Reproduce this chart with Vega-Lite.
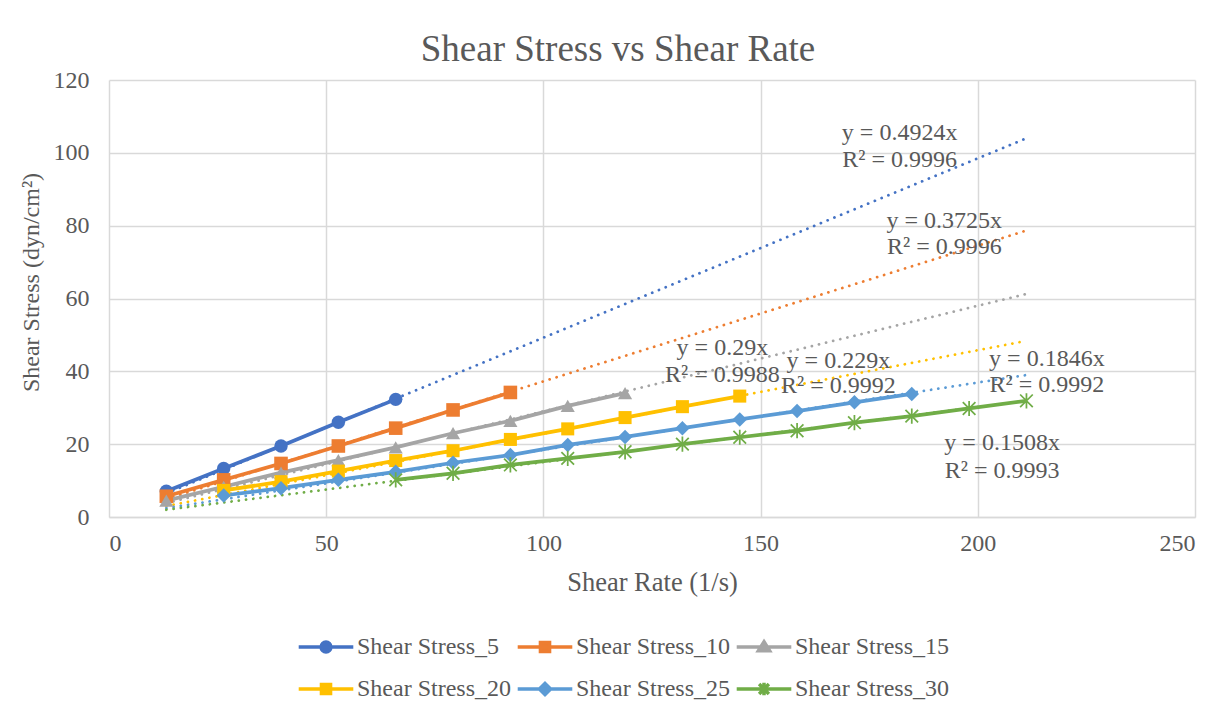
{
  "$schema": "https://vega.github.io/schema/vega-lite/v6.json",
  "width": 1086,
  "height": 437,
  "autosize": {"type": "none"},
  "padding": {"left": 109, "top": 80, "right": 30, "bottom": 204},
  "background": "white",
  "title": {"text": "Shear Stress vs Shear Rate", "font": "Liberation Serif", "fontSize": 37, "fontWeight": "normal", "color": "#595959", "anchor": "middle", "dx": -34, "dy": 11, "offset": 10},
  "datasets": {
    "pts": [
      {"series": "Shear Stress_5", "x": 13.2, "y": 7.1},
      {"series": "Shear Stress_5", "x": 26.4, "y": 13.3},
      {"series": "Shear Stress_5", "x": 39.6, "y": 19.5},
      {"series": "Shear Stress_5", "x": 52.8, "y": 26.0},
      {"series": "Shear Stress_5", "x": 66, "y": 32.3},
      {"series": "Shear Stress_10", "x": 13.2, "y": 5.7},
      {"series": "Shear Stress_10", "x": 26.4, "y": 10.2},
      {"series": "Shear Stress_10", "x": 39.6, "y": 14.7},
      {"series": "Shear Stress_10", "x": 52.8, "y": 19.5},
      {"series": "Shear Stress_10", "x": 66, "y": 24.4},
      {"series": "Shear Stress_10", "x": 79.2, "y": 29.4},
      {"series": "Shear Stress_10", "x": 92.4, "y": 34.2},
      {"series": "Shear Stress_15", "x": 13.2, "y": 4.5},
      {"series": "Shear Stress_15", "x": 26.4, "y": 8.3},
      {"series": "Shear Stress_15", "x": 39.6, "y": 12.2},
      {"series": "Shear Stress_15", "x": 52.8, "y": 15.6},
      {"series": "Shear Stress_15", "x": 66, "y": 19.1},
      {"series": "Shear Stress_15", "x": 79.2, "y": 23.0},
      {"series": "Shear Stress_15", "x": 92.4, "y": 26.4},
      {"series": "Shear Stress_15", "x": 105.6, "y": 30.5},
      {"series": "Shear Stress_15", "x": 118.8, "y": 34.0},
      {"series": "Shear Stress_20", "x": 26.4, "y": 7.3},
      {"series": "Shear Stress_20", "x": 39.6, "y": 9.7},
      {"series": "Shear Stress_20", "x": 52.8, "y": 12.6},
      {"series": "Shear Stress_20", "x": 66, "y": 15.5},
      {"series": "Shear Stress_20", "x": 79.2, "y": 18.2},
      {"series": "Shear Stress_20", "x": 92.4, "y": 21.3},
      {"series": "Shear Stress_20", "x": 105.6, "y": 24.2},
      {"series": "Shear Stress_20", "x": 118.8, "y": 27.3},
      {"series": "Shear Stress_20", "x": 132, "y": 30.3},
      {"series": "Shear Stress_20", "x": 145.2, "y": 33.2},
      {"series": "Shear Stress_25", "x": 26.4, "y": 5.9},
      {"series": "Shear Stress_25", "x": 39.6, "y": 7.9},
      {"series": "Shear Stress_25", "x": 52.8, "y": 10.2},
      {"series": "Shear Stress_25", "x": 66, "y": 12.4},
      {"series": "Shear Stress_25", "x": 79.2, "y": 14.9},
      {"series": "Shear Stress_25", "x": 92.4, "y": 17.0},
      {"series": "Shear Stress_25", "x": 105.6, "y": 19.8},
      {"series": "Shear Stress_25", "x": 118.8, "y": 22.0},
      {"series": "Shear Stress_25", "x": 132, "y": 24.4},
      {"series": "Shear Stress_25", "x": 145.2, "y": 26.8},
      {"series": "Shear Stress_25", "x": 158.4, "y": 29.1},
      {"series": "Shear Stress_25", "x": 171.6, "y": 31.5},
      {"series": "Shear Stress_25", "x": 184.8, "y": 33.8},
      {"series": "Shear Stress_30", "x": 66, "y": 10.2},
      {"series": "Shear Stress_30", "x": 79.2, "y": 12.0},
      {"series": "Shear Stress_30", "x": 92.4, "y": 14.3},
      {"series": "Shear Stress_30", "x": 105.6, "y": 16.1},
      {"series": "Shear Stress_30", "x": 118.8, "y": 17.9},
      {"series": "Shear Stress_30", "x": 132, "y": 20.0},
      {"series": "Shear Stress_30", "x": 145.2, "y": 21.9},
      {"series": "Shear Stress_30", "x": 158.4, "y": 23.7},
      {"series": "Shear Stress_30", "x": 171.6, "y": 25.9},
      {"series": "Shear Stress_30", "x": 184.8, "y": 27.7},
      {"series": "Shear Stress_30", "x": 198, "y": 29.8},
      {"series": "Shear Stress_30", "x": 211.2, "y": 31.9}
    ],
    "trend": [
      {"series": "Shear Stress_5", "x": 13.2, "y": 6.5},
      {"series": "Shear Stress_5", "x": 211.2, "y": 104.0},
      {"series": "Shear Stress_10", "x": 13.2, "y": 4.92},
      {"series": "Shear Stress_10", "x": 211.2, "y": 78.67},
      {"series": "Shear Stress_15", "x": 13.2, "y": 3.83},
      {"series": "Shear Stress_15", "x": 211.2, "y": 61.25},
      {"series": "Shear Stress_20", "x": 13.2, "y": 3.02},
      {"series": "Shear Stress_20", "x": 211.2, "y": 48.36},
      {"series": "Shear Stress_25", "x": 13.2, "y": 2.44},
      {"series": "Shear Stress_25", "x": 211.2, "y": 38.99},
      {"series": "Shear Stress_30", "x": 13.2, "y": 1.99},
      {"series": "Shear Stress_30", "x": 211.2, "y": 31.85}
    ],
    "notes": [
      {"label": "y = 0.4924x", "x": 182.0, "y": 103.5},
      {"label": "R² = 0.9996", "x": 182.0, "y": 96.1},
      {"label": "y = 0.3725x", "x": 192.3, "y": 79.3},
      {"label": "R² = 0.9996", "x": 192.3, "y": 72.2},
      {"label": "y = 0.29x", "x": 141.2, "y": 44.4},
      {"label": "R² = 0.9988", "x": 141.2, "y": 37.0},
      {"label": "y = 0.229x", "x": 167.9, "y": 40.8},
      {"label": "R² = 0.9992", "x": 167.9, "y": 33.95},
      {"label": "y = 0.1846x", "x": 215.9, "y": 41.6},
      {"label": "R² = 0.9992", "x": 215.9, "y": 34.2},
      {"label": "y = 0.1508x", "x": 205.6, "y": 18.3},
      {"label": "R² = 0.9993", "x": 205.6, "y": 10.6}
    ],
    "keys": [
      {"series": "Shear Stress_5"},
      {"series": "Shear Stress_10"},
      {"series": "Shear Stress_15"},
      {"series": "Shear Stress_20"},
      {"series": "Shear Stress_25"},
      {"series": "Shear Stress_30"}
    ]
  },
  "layer": [
    {
      "data": {"name": "trend"},
      "mark": {"type": "line", "strokeWidth": 2.75, "strokeDash": [0.1, 7.2], "strokeCap": "round"},
      "encoding": {
        "x": {
          "field": "x", "type": "quantitative",
          "scale": {"domain": [0, 250], "nice": false, "zero": false},
          "axis": {
            "values": [0, 50, 100, 150, 200, 250],
            "grid": true, "gridColor": "#d9d9d9", "gridWidth": 1.5,
            "domain": true, "domainColor": "#d9d9d9", "domainWidth": 1.5,
            "ticks": false, "tickSize": 0,
            "labelFont": "Liberation Serif", "labelFontSize": 24, "labelColor": "#595959", "labelPadding": 14,
            "title": "Shear Rate (1/s)", "titleFont": "Liberation Serif", "titleFontSize": 26.5, "titleFontWeight": "normal", "titleColor": "#595959", "titlePadding": 14
          }
        },
        "y": {
          "field": "y", "type": "quantitative",
          "scale": {"domain": [0, 120], "nice": false},
          "axis": {
            "values": [0, 20, 40, 60, 80, 100, 120],
            "grid": true, "gridColor": "#d9d9d9", "gridWidth": 1.5,
            "domain": false, "ticks": false, "tickSize": 0,
            "labelFont": "Liberation Serif", "labelFontSize": 24, "labelColor": "#595959", "labelPadding": 20,
            "title": "Shear Stress (dyn/cm²)", "titleFont": "Liberation Serif", "titleFontSize": 24, "titleFontWeight": "normal", "titleColor": "#595959", "titlePadding": 10, "titleY": 202
          }
        },
        "color": {"field": "series", "type": "nominal",
          "scale": {"domain": ["Shear Stress_5", "Shear Stress_10", "Shear Stress_15", "Shear Stress_20", "Shear Stress_25", "Shear Stress_30"],
                    "range": ["#4472C4", "#ED7D31", "#A5A5A5", "#FFC000", "#5B9BD5", "#70AD47"]},
          "legend": {
            "orient": "none", "legendX": 187, "legendY": 555,
            "direction": "horizontal", "columns": 3, "title": null,
            "symbolType": "M-3.9,0H3.9M0.7,0A0.7,0.7 0 1,1 -0.7,0A0.7,0.7 0 1,1 0.7,0Z",
            "symbolSize": 196, "symbolStrokeWidth": 3.5, "symbolOpacity": 1,
            "symbolOffset": 18, "labelOffset": 19,
            "labelFont": "Liberation Serif", "labelFontSize": 24, "labelColor": "#595959", "labelLimit": 400,
            "columnPadding": -1, "rowPadding": 16
          }
        }
      }
    },
    {
      "data": {"name": "pts"},
      "mark": {"type": "line", "strokeWidth": 3.75, "strokeJoin": "round"},
      "encoding": {
        "x": {"field": "x", "type": "quantitative"},
        "y": {"field": "y", "type": "quantitative"},
        "color": {"field": "series", "type": "nominal"},
        "order": {"field": "x", "type": "quantitative"}
      }
    },
    {
      "data": {"name": "pts"},
      "transform": [{"filter": "datum.series === 'Shear Stress_5'"}],
      "mark": {"type": "point", "shape": "circle", "filled": true, "opacity": 1, "size": 180},
      "encoding": {"x": {"field": "x", "type": "quantitative"}, "y": {"field": "y", "type": "quantitative"}, "color": {"field": "series", "type": "nominal"}}
    },
    {
      "data": {"name": "pts"},
      "transform": [{"filter": "datum.series === 'Shear Stress_10'"}],
      "mark": {"type": "point", "shape": "square", "filled": true, "opacity": 1, "size": 185},
      "encoding": {"x": {"field": "x", "type": "quantitative"}, "y": {"field": "y", "type": "quantitative"}, "color": {"field": "series", "type": "nominal"}}
    },
    {
      "data": {"name": "pts"},
      "transform": [{"filter": "datum.series === 'Shear Stress_15'"}],
      "mark": {"type": "point", "shape": "triangle-up", "filled": true, "opacity": 1, "size": 200},
      "encoding": {"x": {"field": "x", "type": "quantitative"}, "y": {"field": "y", "type": "quantitative"}, "color": {"field": "series", "type": "nominal"}}
    },
    {
      "data": {"name": "pts"},
      "transform": [{"filter": "datum.series === 'Shear Stress_20'"}],
      "mark": {"type": "point", "shape": "square", "filled": true, "opacity": 1, "size": 170},
      "encoding": {"x": {"field": "x", "type": "quantitative"}, "y": {"field": "y", "type": "quantitative"}, "color": {"field": "series", "type": "nominal"}}
    },
    {
      "data": {"name": "pts"},
      "transform": [{"filter": "datum.series === 'Shear Stress_25'"}],
      "mark": {"type": "point", "shape": "diamond", "filled": true, "opacity": 1, "size": 210},
      "encoding": {"x": {"field": "x", "type": "quantitative"}, "y": {"field": "y", "type": "quantitative"}, "color": {"field": "series", "type": "nominal"}}
    },
    {
      "data": {"name": "pts"},
      "transform": [{"filter": "datum.series === 'Shear Stress_30'"}],
      "mark": {"type": "point", "shape": "M-1,-1L1,1M-1,1L1,-1M0,-1.2V1.2", "filled": false, "opacity": 1, "size": 160, "strokeWidth": 1.75},
      "encoding": {"x": {"field": "x", "type": "quantitative"}, "y": {"field": "y", "type": "quantitative"}, "color": {"field": "series", "type": "nominal"}}
    },
    {
      "data": {"name": "keys"},
      "mark": {"type": "point", "filled": true, "size": 196},
      "encoding": {
        "x": {"field": "x", "type": "quantitative"},
        "y": {"field": "y", "type": "quantitative"},
        "color": {"field": "series", "type": "nominal"},
        "shape": {"field": "series", "type": "nominal",
          "scale": {"domain": ["Shear Stress_5", "Shear Stress_10", "Shear Stress_15", "Shear Stress_20", "Shear Stress_25", "Shear Stress_30"],
                    "range": [
                      "M-3.9,0H3.9M0.7,0A0.7,0.7 0 1,1 -0.7,0A0.7,0.7 0 1,1 0.7,0Z",
                      "M-3.9,0H3.9M-0.65,-0.65H0.65V0.65H-0.65Z",
                      "M-3.9,0H3.9M0,-0.75L0.8,0.55H-0.8Z",
                      "M-3.9,0H3.9M-0.65,-0.65H0.65V0.65H-0.65Z",
                      "M-3.9,0H3.9M0,-0.8L0.8,0L0,0.8L-0.8,0Z",
                      "M-3.9,0H3.9M-0.7,-0.7L0.7,0.7M-0.7,0.7L0.7,-0.7M0,-0.9V0.9"
                    ]},
          "legend": {
            "orient": "none", "legendX": 187, "legendY": 555,
            "direction": "horizontal", "columns": 3, "title": null,
            "symbolSize": 196, "symbolStrokeWidth": 3.5, "symbolOpacity": 1,
            "symbolOffset": 18, "labelOffset": 19,
            "labelFont": "Liberation Serif", "labelFontSize": 24, "labelColor": "#595959", "labelLimit": 400,
            "columnPadding": -1, "rowPadding": 16
          }
        }
      }
    },
    {
      "data": {"name": "notes"},
      "mark": {"type": "text", "font": "Liberation Serif", "fontSize": 24, "color": "#595959", "align": "center", "baseline": "alphabetic"},
      "encoding": {"x": {"field": "x", "type": "quantitative"}, "y": {"field": "y", "type": "quantitative"}, "text": {"field": "label", "type": "nominal"}}
    }
  ],
  "config": {
    "view": {"stroke": null},
    "font": "Liberation Serif"
  }
}
